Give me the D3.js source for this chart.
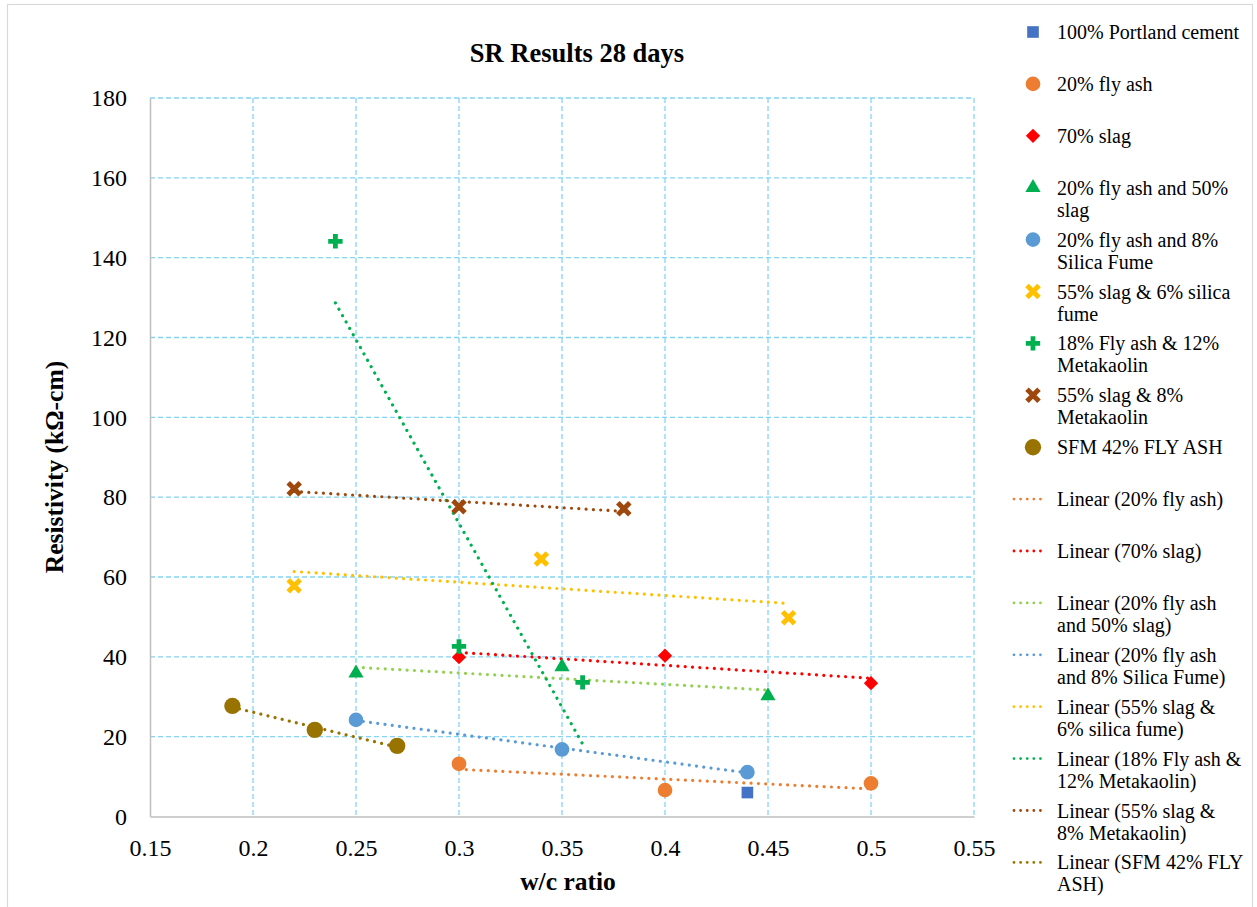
<!DOCTYPE html>
<html>
<head>
<meta charset="utf-8">
<script src="https://cdn.jsdelivr.net/npm/d3@7"></script>
<style>
  body { margin: 0; background: #fff; }
  text { font-family: "Liberation Serif", "Times New Roman", serif; fill: #000; }
</style>
</head>
<body>
<svg id="chart" width="1257" height="907"></svg>
<script>
(function () {
  'use strict';

  // ---- data ----
  var seriesNames = [
    '100% Portland cement', '20% fly ash', '70% slag', '20% fly ash and 50% slag',
    '20% fly ash and 8% Silica Fume', '55% slag & 6% silica fume',
    '18% Fly ash & 12% Metakaolin', '55% slag & 8% Metakaolin', 'SFM 42% FLY ASH'
  ];
  var wcRatio = [
    [0.44],
    [0.30, 0.40, 0.50],
    [0.30, 0.40, 0.50],
    [0.25, 0.35, 0.45],
    [0.25, 0.35, 0.44],
    [0.22, 0.34, 0.46],
    [0.24, 0.30, 0.36],
    [0.22, 0.30, 0.38],
    [0.19, 0.23, 0.27]
  ];
  var resistivity = [
    [6.0],
    [13.2, 6.6, 8.3],
    [39.9, 40.3, 33.4],
    [35.9, 37.5, 30.2],
    [24.2, 16.8, 11.1],
    [57.8, 64.5, 49.8],
    [144.1, 42.6, 33.6],
    [82.1, 77.6, 77.1],
    [27.7, 21.7, 17.7]
  ];
  // series that get a linear trendline (index into seriesNames)
  var trendSeries = [1, 2, 3, 4, 5, 6, 7, 8];

  var xTicks = [0.15, 0.2, 0.25, 0.3, 0.35, 0.4, 0.45, 0.5, 0.55];
  var yTicks = [0, 20, 40, 60, 80, 100, 120, 140, 160, 180];

  // legend text, already wrapped like the original
  var markerLegend = [
    ['100% Portland cement'], ['20% fly ash'], ['70% slag'],
    ['20% fly ash and 50%', 'slag'], ['20% fly ash and 8%', 'Silica Fume'],
    ['55% slag & 6% silica', 'fume'], ['18% Fly ash & 12%', 'Metakaolin'],
    ['55% slag & 8%', 'Metakaolin'], ['SFM 42% FLY ASH']
  ];
  var trendLegend = [
    ['Linear (20% fly ash)'], ['Linear (70% slag)'],
    ['Linear (20% fly ash', 'and 50% slag)'], ['Linear (20% fly ash', 'and 8% Silica Fume)'],
    ['Linear (55% slag &', '6% silica fume)'], ['Linear (18% Fly ash &', '12% Metakaolin)'],
    ['Linear (55% slag &', '8% Metakaolin)'], ['Linear (SFM 42% FLY', 'ASH)']
  ];

  // ---- styles ----
  var markerColors = ['#4472C4', '#ED7D31', '#FF0000', '#00B050', '#5B9BD5',
    '#FFC000', '#00B050', '#9E480E', '#997300'];
  var markerTypes = ['square', 'circle', 'diamond', 'triangle', 'circle',
    'x', 'cross', 'x', 'bigcircle'];
  var trendColors = ['#ED7D31', '#FF0000', '#92D050', '#5B9BD5',
    '#FFC000', '#00B050', '#9E480E', '#997300'];

  var margin = {left: 150, right: 974, top: 98, bottom: 816.5};

  var svg = d3.select('#chart');

  svg.append('rect')
    .attr('x', 7.5).attr('y', 4.5)
    .attr('width', 1245).attr('height', 920)
    .attr('fill', '#fff')
    .attr('stroke', '#d9d9d9')
    .attr('stroke-width', 1.2);

  var x = d3.scaleLinear().domain([0.15, 0.55]).range([margin.left, margin.right]);
  var y = d3.scaleLinear().domain([0, 180]).range([margin.bottom, margin.top]);

  var grid = svg.append('g')
    .attr('stroke', '#84d4f6')
    .attr('stroke-width', 1.3)
    .attr('stroke-dasharray', '5 3');
  grid.selectAll('.gx')
    .data(xTicks.slice(1))
    .enter()
    .append('line')
    .attr('x1', function (d) { return x(d); })
    .attr('x2', function (d) { return x(d); })
    .attr('y1', margin.top)
    .attr('y2', margin.bottom);
  grid.selectAll('.gy')
    .data(yTicks.slice(1))
    .enter()
    .append('line')
    .attr('y1', function (d) { return y(d); })
    .attr('y2', function (d) { return y(d); })
    .attr('x1', margin.left)
    .attr('x2', margin.right);

  // axes (no tick marks, only labels)
  var xAxis = svg.append('g')
    .attr('transform', 'translate(0,' + margin.bottom + ')')
    .call(d3.axisBottom(x).tickValues(xTicks).tickSize(0).tickPadding(30)
      .tickFormat(function (d) { return String(+d.toFixed(2)); }));
  var yAxis = svg.append('g')
    .attr('transform', 'translate(' + margin.left + ',0)')
    .call(d3.axisLeft(y).tickValues(yTicks).tickSize(0).tickPadding(23));
  [xAxis, yAxis].forEach(function (a) {
    a.select('.domain').attr('stroke', '#bfbfbf').attr('stroke-width', 1.5);
    a.selectAll('text')
      .attr('font-size', 24)
      .attr('fill', '#000');
  });
  xAxis.selectAll('text').attr('dy', null).attr('y', 0)
    .attr('dominant-baseline', 'central').attr('transform', 'translate(0,31)');
  yAxis.selectAll('text').attr('dy', '0.32em');

  svg.append('text')
    .attr('x', 577).attr('y', 62)
    .attr('text-anchor', 'middle')
    .attr('font-size', 26.5).attr('font-weight', 'bold')
    .text('SR Results 28 days');
  svg.append('text')
    .attr('transform', 'translate(63,467) rotate(-90)')
    .attr('text-anchor', 'middle')
    .attr('font-size', 25.5).attr('font-weight', 'bold')
    .text('Resistivity (k\u03A9-cm)');
  svg.append('text')
    .attr('x', 568).attr('y', 890)
    .attr('text-anchor', 'middle')
    .attr('font-size', 25.5).attr('font-weight', 'bold')
    .text('w/c ratio');

  // ---- trendlines (least squares over each series) ----
  function fit(xs, ys) {
    var mx = d3.mean(xs), my = d3.mean(ys);
    var sxy = d3.sum(xs, function (v, i) { return (v - mx) * (ys[i] - my); });
    var sxx = d3.sum(xs, function (v) { return (v - mx) * (v - mx); });
    var b = sxy / sxx;
    return function (v) { return my + b * (v - mx); };
  }

  var line = d3.line()
    .x(function (d) { return x(d[0]); })
    .y(function (d) { return y(d[1]); });

  svg.append('g').selectAll('path')
    .data(trendSeries)
    .enter()
    .append('path')
    .attr('d', function (s) {
      var f = fit(wcRatio[s], resistivity[s]);
      var ext = d3.extent(wcRatio[s]);
      return line([[ext[0], f(ext[0])], [ext[1], f(ext[1])]]);
    })
    .attr('fill', 'none')
    .attr('stroke', function (s, i) { return trendColors[i]; })
    .attr('stroke-width', 3.2)
    .attr('stroke-linecap', 'round')
    .attr('stroke-dasharray', '0.01 7.3');

  // ---- markers ----
  function drawMarker(g, type, color) {
    if (type === 'x') {
      g.append('path')
        .attr('d', 'M-6,-6L6,6M-6,6L6,-6')
        .attr('stroke', color).attr('stroke-width', 5).attr('fill', 'none');
      return;
    }
    var sym = {
      square: [d3.symbolSquare, 135, 0],
      circle: [d3.symbolCircle, 170, 0],
      bigcircle: [d3.symbolCircle, 210, 0],
      diamond: [d3.symbolSquare, 102, 45],
      triangle: [d3.symbolTriangle, 100, 0],
      cross: [d3.symbolCross, 115, 0]
    }[type];
    g.append('path')
      .attr('d', d3.symbol(sym[0], sym[1])())
      .attr('transform', 'rotate(' + sym[2] + ')')
      .attr('fill', color);
  }

  seriesNames.forEach(function (name, s) {
    var pts = wcRatio[s].map(function (v, i) { return [v, resistivity[s][i]]; });
    svg.append('g')
      .attr('class', 'series')
      .selectAll('g')
      .data(pts)
      .enter()
      .append('g')
      .attr('transform', function (d) { return 'translate(' + x(d[0]) + ',' + y(d[1]) + ')'; })
      .each(function () { drawMarker(d3.select(this), markerTypes[s], markerColors[s]); });
  });

  // ---- legend ----
  var legend = svg.append('g');
  var rowStep = 51.9, firstRow = 32;
  var rows = markerLegend.map(function (l, i) { return {lines: l, kind: 'm', idx: i}; })
    .concat(trendLegend.map(function (l, i) { return {lines: l, kind: 't', idx: i}; }));

  rows.forEach(function (r, i) {
    var cy = firstRow + i * rowStep;
    var g = legend.append('g');
    if (r.kind === 'm') {
      var mg = g.append('g').attr('transform', 'translate(1033,' + cy + ')');
      drawMarker(mg, markerTypes[r.idx], markerColors[r.idx]);
    } else {
      g.append('line')
        .attr('x1', 1014).attr('x2', 1047)
        .attr('y1', cy).attr('y2', cy)
        .attr('stroke', trendColors[r.idx])
        .attr('stroke-width', 2.8)
        .attr('stroke-linecap', 'round')
        .attr('stroke-dasharray', '0.01 6.6');
    }
    g.selectAll('text')
      .data(r.lines)
      .enter()
      .append('text')
      .attr('x', 1057)
      .attr('y', function (d, j) { return cy + j * 22; })
      .attr('dy', '0.35em')
      .attr('font-size', 20)
      .text(function (d) { return d; });
  });
}());
</script>
</body>
</html>
